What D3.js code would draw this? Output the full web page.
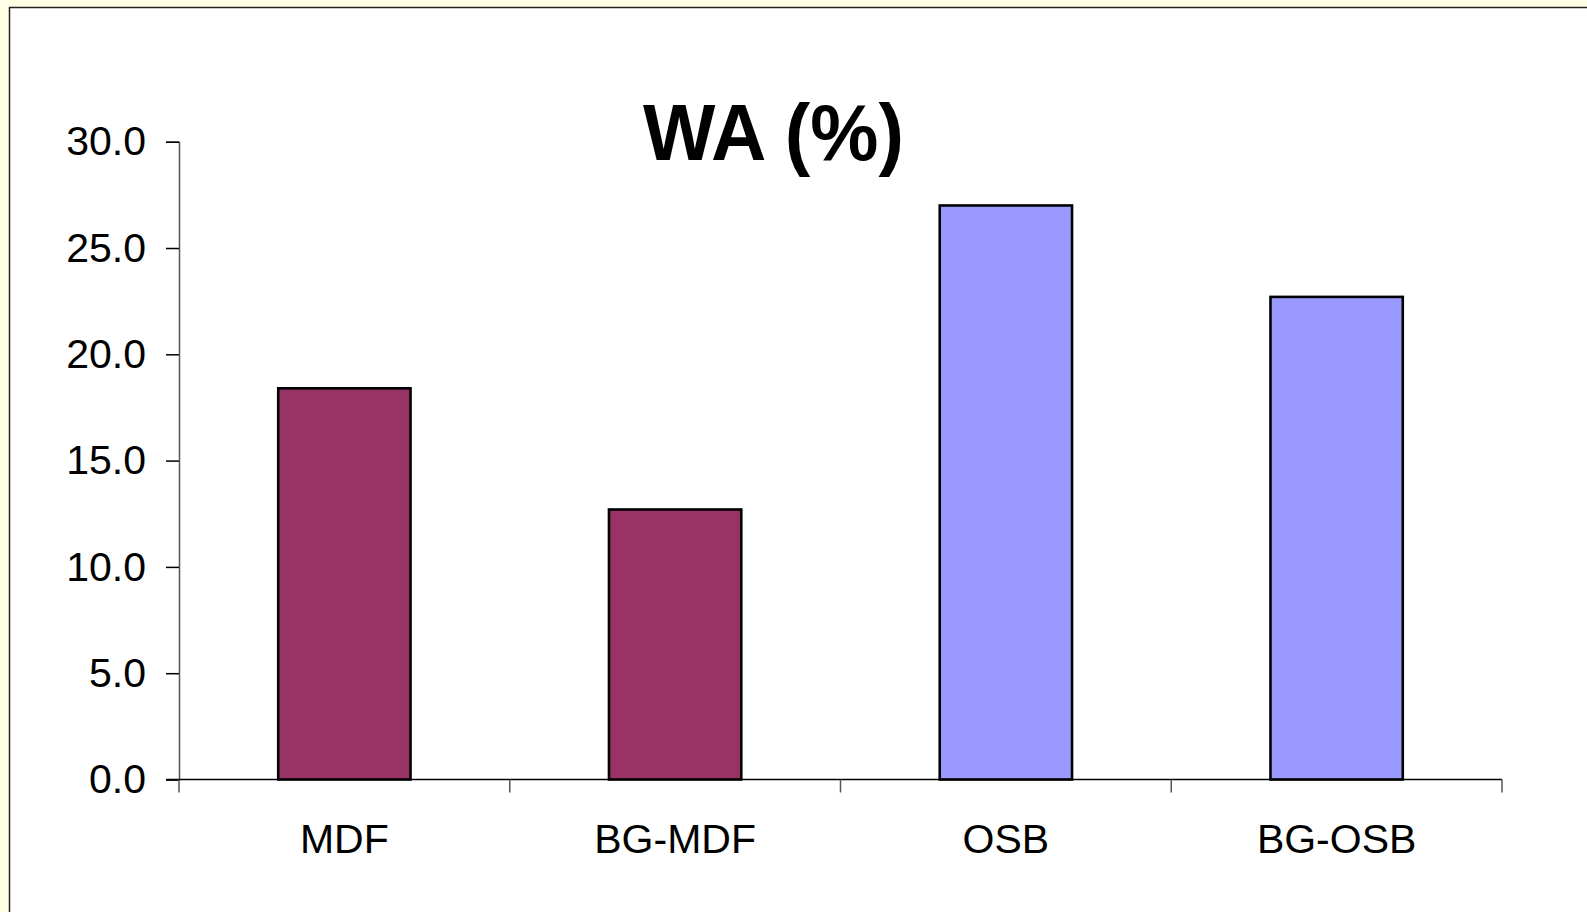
<!DOCTYPE html>
<html>
<head>
<meta charset="utf-8">
<script src="https://cdn.jsdelivr.net/npm/d3@7"></script>
<style>
  html, body { margin: 0; padding: 0; background: #FFFFE6; }
  svg { display: block; }
</style>
</head>
<body>
<svg id="chart" width="1587" height="912"></svg>
<script>
// Water absorption by board type
const categories = ["MDF", "BG-MDF", "OSB", "BG-OSB"];
const values = [18.4, 12.7, 27.0, 22.7];
const barColors = ["#993366", "#993366", "#9999FF", "#9999FF"];
const yTicks = [0, 5, 10, 15, 20, 25, 30];
const title = "WA (%)";

const svg = d3.select("#chart");
const W = 1587, H = 912;

// white panel with dark frame
svg.append("rect")
  .attr("x", 9.5).attr("y", 7.5)
  .attr("width", W).attr("height", H)
  .attr("fill", "#ffffff")
  .attr("stroke", "#222").attr("stroke-width", 1.5);

const plot = { left: 179, right: 1502, top: 141.7, bottom: 779.5 };

const x = d3.scaleBand()
  .domain(categories)
  .range([plot.left, plot.right])
  .paddingInner(0.6).paddingOuter(0.3);

const y = d3.scaleLinear()
  .domain([0, 30])
  .range([plot.bottom, plot.top]);

const font = "'Liberation Sans', Arial, Helvetica, sans-serif";

// bars
svg.append("g").selectAll("rect")
  .data(categories)
  .join("rect")
  .attr("x", d => x(d))
  .attr("y", (d, i) => y(values[i]))
  .attr("width", x.bandwidth())
  .attr("height", (d, i) => y(0) - y(values[i]))
  .attr("fill", (d, i) => barColors[i])
  .attr("stroke", "#000")
  .attr("stroke-width", 2.6);

// y axis
const yAxis = d3.axisLeft(y)
  .tickValues(yTicks)
  .tickFormat(d3.format(".1f"))
  .tickSize(13)
  .tickPadding(20);
const gy = svg.append("g")
  .attr("transform", `translate(${plot.left},0)`)
  .call(yAxis);
gy.select(".domain").attr("stroke", "#555").attr("stroke-width", 1.5);
gy.selectAll(".tick line").attr("stroke", "#000").attr("stroke-width", 1.5);
gy.selectAll(".tick text")
  .attr("font-family", font)
  .attr("font-size", 41)
  .attr("fill", "#000");

// x axis: ticks sit on category boundaries
const xAxisLine = svg.append("g");
xAxisLine.append("line")
  .attr("x1", plot.left - 13).attr("x2", plot.right)
  .attr("y1", y(0)).attr("y2", y(0))
  .attr("stroke", "#000").attr("stroke-width", 1.5);
const boundaries = d3.range(categories.length + 1).map(i => plot.left + i * (plot.right - plot.left) / categories.length);
xAxisLine.selectAll("line.tick")
  .data(boundaries)
  .join("line")
  .attr("class", "tick")
  .attr("x1", d => d).attr("x2", d => d)
  .attr("y1", y(0)).attr("y2", y(0) + 13)
  .attr("stroke", "#555").attr("stroke-width", 1.5);

svg.append("g").selectAll("text")
  .data(categories)
  .join("text")
  .attr("x", d => x(d) + x.bandwidth() / 2)
  .attr("y", 853)
  .attr("text-anchor", "middle")
  .attr("font-family", font)
  .attr("font-size", 41)
  .attr("fill", "#000")
  .text(d => d);

// title
svg.append("text")
  .attr("x", 643)
  .attr("y", 160)
  .attr("font-family", font)
  .attr("font-weight", "bold")
  .attr("font-size", 80)
  .attr("textLength", 261)
  .attr("lengthAdjust", "spacingAndGlyphs")
  .attr("fill", "#000")
  .text(title);
</script>
</body>
</html>
